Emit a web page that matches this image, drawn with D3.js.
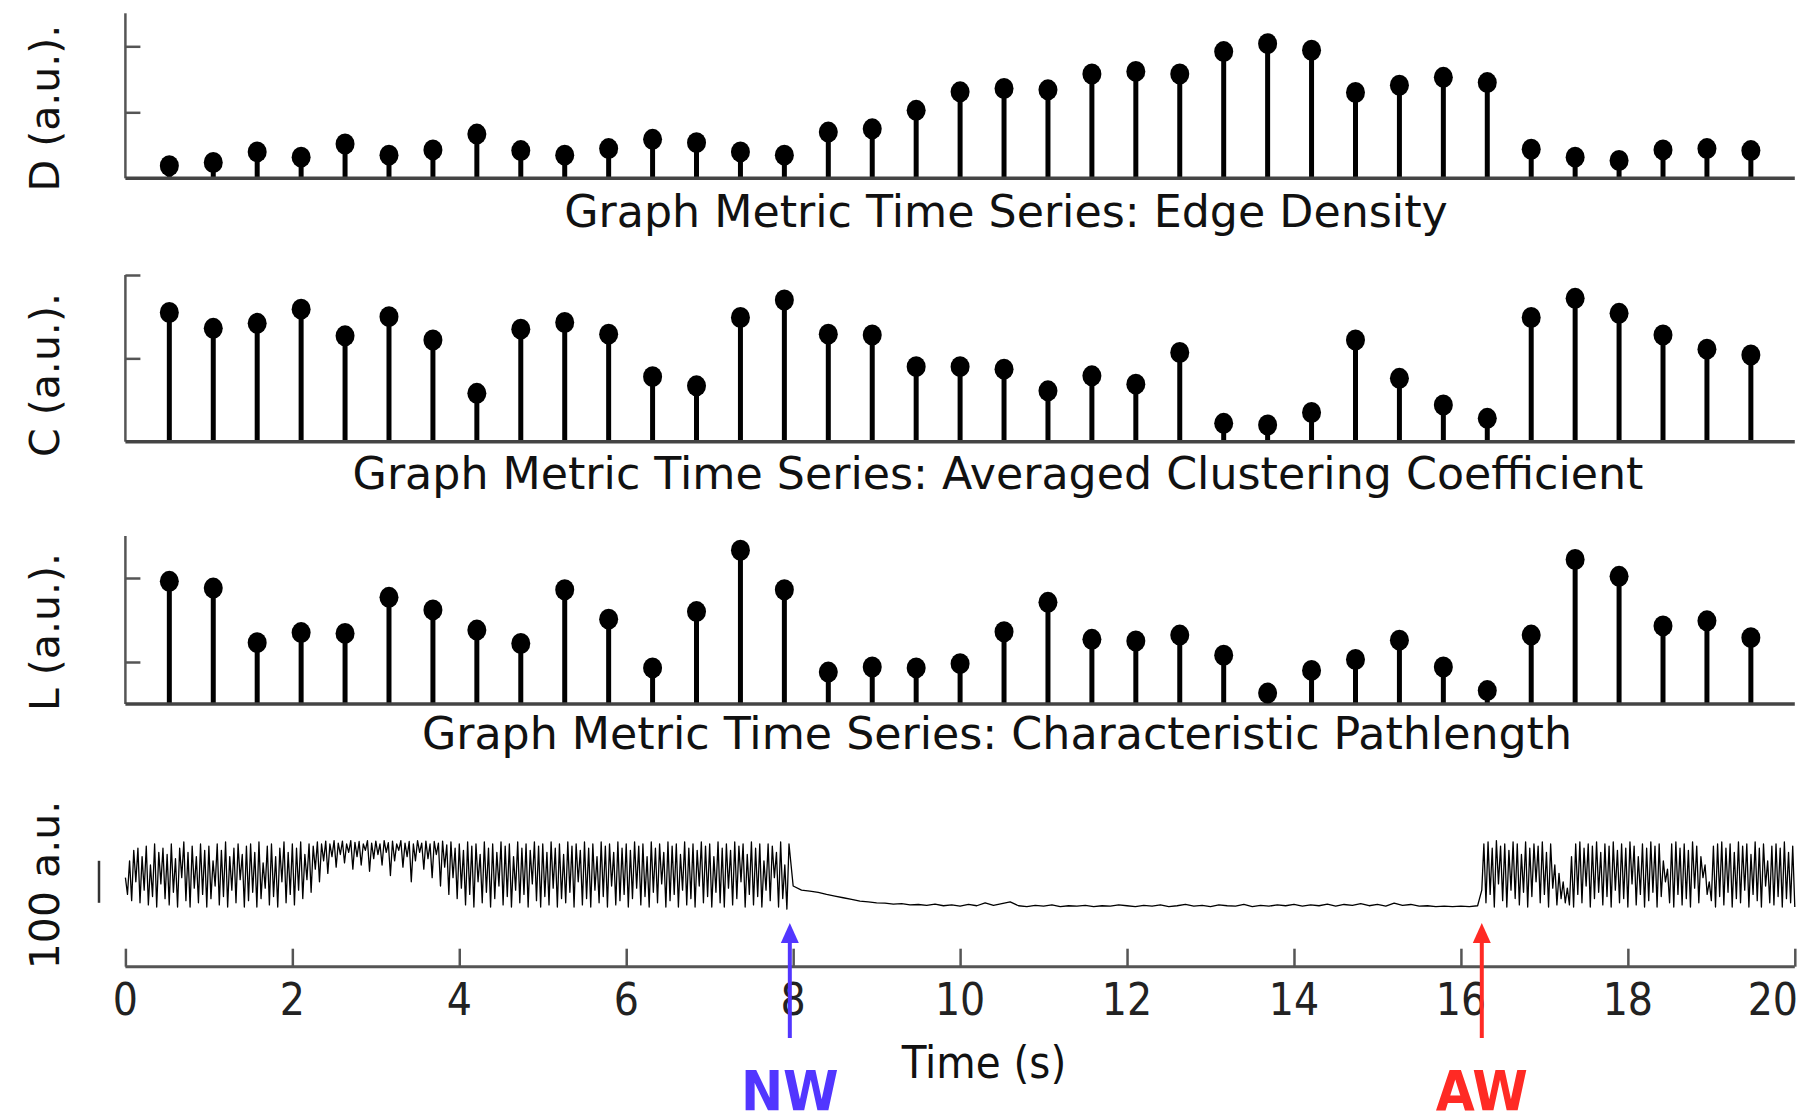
<!DOCTYPE html>
<html>
<head>
<meta charset="utf-8">
<script src="https://cdn.jsdelivr.net/npm/d3@7"></script>
<style>
  body { margin: 0; background: #fff; }
  svg { display: block; font-family: 'DejaVu Sans', sans-serif; }
</style>
</head>
<body>
<svg width="1804" height="1114"></svg>
<script>
'use strict';
const svg = d3.select('svg');

// graph metric values per time window (37 windows over 20 s)
const edgeDensity = [0.19, 0.24, 0.40, 0.32, 0.52, 0.35, 0.43, 0.67, 0.42, 0.35, 0.45, 0.59, 0.54, 0.40, 0.35, 0.70, 0.75,
  1.03, 1.31, 1.36, 1.34, 1.58, 1.62, 1.58, 1.92, 2.04, 1.94, 1.30, 1.41, 1.53, 1.45, 0.44, 0.32, 0.27, 0.43, 0.45, 0.42];
const clustering = [1.55, 1.36, 1.42, 1.59, 1.27, 1.50, 1.22, 0.58, 1.35, 1.43, 1.29, 0.78, 0.67, 1.49, 1.70, 1.29, 1.28,
  0.90, 0.90, 0.87, 0.61, 0.79, 0.69, 1.07, 0.22, 0.20, 0.35, 1.22, 0.76, 0.44, 0.28, 1.49, 1.72, 1.54, 1.28, 1.11, 1.04];
const pathLength = [1.96, 1.88, 1.23, 1.35, 1.34, 1.77, 1.62, 1.38, 1.22, 1.86, 1.51, 0.93, 1.60, 2.33, 1.86, 0.88, 0.94,
  0.93, 0.98, 1.36, 1.71, 1.27, 1.25, 1.32, 1.08, 0.63, 0.90, 1.03, 1.26, 0.94, 0.66, 1.32, 2.22, 2.02, 1.43, 1.49, 1.29];
const windowCount = 38;

// EEG trace (a.u.) in three stretches
const eegAwakeEarlyStart = 0, eegAwakeEarlyStep = 0.025;
const eegAwakeEarly = [
  70, 30, 110, 15, 135, 60, 140, 10, 120, 40, 145, 5, 100, 25, 150, 0, 130, 55, 140, 20,
  125, 5, 150, 35, 115, 0, 140, 70, 155, 15, 130, 0, 145, 45, 120, 10, 150, 30, 135, 0,
  145, 20, 110, 50, 150, 5, 135, 25, 155, 0, 120, 40, 140, 10, 150, 65, 125, 0, 145, 15,
  150, 35, 130, 0, 155, 20, 105, 45, 145, 5, 150, 25, 120, 0, 140, 60, 155, 10, 130, 30,
  150, 5, 140, 40, 155, 20, 125, 65, 150, 35, 145, 90, 155, 60, 150, 110, 157, 80, 150, 120,
  158, 95, 152, 125, 157, 105, 150, 130, 158, 90, 154, 120, 156, 100, 150, 135, 158, 85, 152, 115,
  157, 125, 150, 100, 158, 130, 153, 75, 157, 110, 150, 135, 158, 95, 152, 120, 156, 60, 150, 110,
  158, 130, 152, 90, 157, 115, 150, 70, 156, 125, 152, 50, 157, 95, 148, 30, 155, 70, 140, 20,
  150, 45, 135, 5, 155, 30, 145, 0, 150, 60, 125, 10, 155, 35, 140, 0, 150, 20, 130, 50,
  155, 5, 145, 25, 150, 0, 120, 40, 155, 10, 140, 30, 150, 0, 135, 55, 155, 15, 145, 0,
  150, 25, 130, 5, 155, 45, 140, 0, 150, 20, 125, 10, 155, 35, 145, 0, 150, 60, 135, 5,
  155, 20, 140, 0, 150, 40, 120, 10, 155, 25, 145, 0, 150, 50, 130, 5, 155, 15, 140, 30,
  150, 0, 135, 20, 155, 45, 145, 5, 150, 25, 120, 0, 155, 35, 140, 10, 150, 55, 130, 0,
  155, 15, 145, 30, 150, 0, 125, 40, 155, 5, 140, 20, 150, 0, 135, 50, 155, 10, 145, 25,
  150, 0, 120, 35, 155, 10, 140, 0, 150, 45, 135, 5, 155, 20, 145, 60, 150, 0, 125, 30,
  155, 5, 140, 25, 150, 0, 110, 40, 150, 15, 145, 70, 130, 0, 155, 20, 100, -5, 150];
const eegDrowsyStart = 8.0, eegDrowsyStep = 0.1;
const eegDrowsy = [
  50, 40, 38, 35, 30, 26, 22, 18, 14, 12, 10, 9, 7, 8, 5, 6, 4, 7, 3, 5,
  2, 6, 3, 10, 4, 8, 12, 3, 1, 4, 2, 5, 1, 3, 2, 4, 1, 3, 2, 5,
  3, 1, 4, 2, 5, 1, 3, 6, 2, 4, 1, 5, 3, 2, 6, 1, 4, 2, 5, 3,
  6, 2, 5, 3, 7, 2, 6, 4, 8, 3, 6, 2, 9, 4, 6, 2, 3, 1, 2, 1,
  2, 1, 3];
const eegAwakeLateStart = 16.25, eegAwakeLateStep = 0.025;
const eegAwakeLate = [
  40, 150, 10, 155, 30, 140, 0, 158, 55, 145, 15, 150, 0, 135, 40, 155, 20, 150, 5, 125,
  35, 155, 0, 140, 25, 150, 60, 145, 10, 155, 30, 130, 0, 150, 45, 100, 5, 80, 20, 60,
  10, 45, 5, 120, 0, 150, 30, 155, 10, 140, 50, 150, 0, 145, 20, 155, 35, 130, 5, 150,
  25, 145, 0, 155, 40, 135, 10, 150, 20, 140, 0, 155, 55, 145, 5, 120, 30, 150, 0, 140,
  15, 155, 35, 145, 0, 150, 25, 110, 60, 90, 10, 150, 0, 155, 30, 140, 5, 150, 20, 135,
  0, 155, 45, 145, 10, 120, 70, 100, 30, 60, 15, 145, 0, 150, 25, 155, 5, 140, 35, 150,
  0, 130, 20, 155, 10, 145, 40, 150, 0, 125, 30, 155, 15, 140, 0, 150, 50, 110, 10, 145,
  5, 150, 25, 140, 0, 155, 20, 130, 10, 145, 0];

const timeTicks = [0, 2, 4, 6, 8, 10, 12, 14, 16, 18, 20];
const eegScaleBar = [10, 110];
const events = [{label: 'NW', t: 7.96, color: '#5236ff'}, {label: 'AW', t: 16.25, color: '#ff2a24'}];

const x0 = 125.4, x1 = 1794.8;
const x_time = d3.scaleLinear().domain([0, 20]).range([x0, x1]);
const x_win = d3.scaleLinear().domain([0, windowCount]).range([x0, x1]);

const panels = [
  {values: edgeDensity, domain: [0, 2.5], range: [178.3, 13.3], label: 'D (a.u.).', labelY: 108,
   title: 'Graph Metric Time Series: Edge Density', titleX: 1006, titleY: 227},
  {values: clustering, domain: [0, 2], range: [441.7, 275], label: 'C (a.u.).', labelY: 375,
   title: 'Graph Metric Time Series: Averaged Clustering Coefficient', titleX: 998, titleY: 489},
  {values: pathLength, domain: [0.5, 2.5], range: [704, 536], label: 'L (a.u.).', labelY: 632,
   title: 'Graph Metric Time Series: Characteristic Pathlength', titleX: 997, titleY: 749}
];

for (const p of panels) {
  const y = d3.scaleLinear().domain(p.domain).range(p.range);
  const g = svg.append('g');
  const base = p.domain[0];

  // left axis with inward ticks, no labels
  g.append('g')
    .attr('transform', `translate(${x0},0)`)
    .call(d3.axisRight(y).tickValues([1, 2]).tickSize(15).tickFormat(''))
    .call(a => a.select('.domain').attr('stroke', '#555').attr('stroke-width', 2.5).attr('d', `M0,${y(p.domain[0])}V${y(p.domain[1])}`))
    .call(a => a.selectAll('.tick line').attr('stroke', '#555').attr('stroke-width', 2.5));

  // stems
  g.selectAll('line.stem').data(p.values).enter()
    .append('line')
      .attr('class', 'stem')
      .attr('x1', (d, i) => x_win(i + 1))
      .attr('x2', (d, i) => x_win(i + 1))
      .attr('y1', y(base))
      .attr('y2', d => y(d))
      .attr('stroke', '#000')
      .attr('stroke-width', 5);

  // baseline
  g.append('line')
    .attr('x1', x0).attr('x2', x1)
    .attr('y1', y(base)).attr('y2', y(base))
    .attr('stroke', '#444').attr('stroke-width', 3.5);

  // markers
  g.selectAll('ellipse').data(p.values).enter()
    .append('ellipse')
      .attr('cx', (d, i) => x_win(i + 1))
      .attr('cy', d => y(d))
      .attr('rx', 9.5)
      .attr('ry', 10.5)
      .attr('fill', '#000');

  g.append('text')
    .attr('x', p.titleX).attr('y', p.titleY)
    .attr('text-anchor', 'middle')
    .attr('font-size', 44.3)
    .attr('fill', '#111')
    .text(p.title);

  g.append('text')
    .attr('transform', `translate(44,${p.labelY}) rotate(-90)`)
    .attr('text-anchor', 'middle')
    .attr('dy', '0.36em')
    .attr('font-size', 41)
    .attr('fill', '#111')
    .text(p.label);
}

// EEG panel
const y_eeg = d3.scaleLinear().domain([0, 100]).range([907, 865]);
const eegPoints = [];
eegAwakeEarly.forEach((v, i) => eegPoints.push([eegAwakeEarlyStart + i * eegAwakeEarlyStep, v]));
eegDrowsy.forEach((v, i) => eegPoints.push([eegDrowsyStart + i * eegDrowsyStep, v]));
eegAwakeLate.forEach((v, i) => eegPoints.push([eegAwakeLateStart + i * eegAwakeLateStep, v]));

svg.append('path')
  .datum(eegPoints)
  .attr('fill', 'none')
  .attr('stroke', '#000')
  .attr('stroke-width', 1.3)
  .attr('stroke-linejoin', 'round')
  .attr('d', d3.line().x(d => x_time(d[0])).y(d => y_eeg(d[1])));

// 100 a.u. scale bar
svg.append('line')
  .attr('x1', 99).attr('x2', 99)
  .attr('y1', y_eeg(eegScaleBar[0])).attr('y2', y_eeg(eegScaleBar[1]))
  .attr('stroke', '#333').attr('stroke-width', 2.5);

svg.append('text')
  .attr('transform', 'translate(44,885) rotate(-90)')
  .attr('text-anchor', 'middle')
  .attr('dy', '0.36em')
  .attr('font-size', 41)
  .attr('fill', '#111')
  .text('100 a.u.');

// time axis, ticks pointing up
const axisY = 966.7;
svg.append('g')
  .attr('transform', `translate(0,${axisY})`)
  .call(d3.axisTop(x_time).tickValues(timeTicks).tickSize(18).tickFormat(''))
  .call(a => a.select('.domain').attr('stroke', '#555').attr('stroke-width', 3).attr('d', `M${x0},0H${x1}`))
  .call(a => a.selectAll('.tick line').attr('stroke', '#555').attr('stroke-width', 2.5));

svg.append('g').selectAll('text').data(timeTicks).enter()
  .append('text')
    .attr('x', (d, i) => i === timeTicks.length - 1 ? 1798 : x_time(d))
    .attr('y', 1015)
    .attr('text-anchor', (d, i) => i === timeTicks.length - 1 ? 'end' : 'middle')
    .attr('font-family', "'DejaVu Sans Condensed', 'DejaVu Sans', sans-serif")
    .attr('font-size', 44)
    .attr('fill', '#222')
    .text(d => d);

svg.append('text')
  .attr('x', 984).attr('y', 1078)
  .attr('text-anchor', 'middle')
  .attr('font-family', "'DejaVu Sans Condensed', 'DejaVu Sans', sans-serif")
  .attr('font-size', 45)
  .attr('fill', '#111')
  .text('Time (s)');

// event arrows
const ev = svg.append('g').selectAll('g').data(events).enter().append('g');
ev.append('line')
  .attr('x1', d => x_time(d.t)).attr('x2', d => x_time(d.t))
  .attr('y1', 1038).attr('y2', 940)
  .attr('stroke', d => d.color).attr('stroke-width', 4);
ev.append('path')
  .attr('d', d => `M${x_time(d.t)},923L${x_time(d.t) - 9},943L${x_time(d.t) + 9},943Z`)
  .attr('fill', d => d.color);
ev.append('text')
  .attr('x', d => x_time(d.t))
  .attr('y', 1110)
  .attr('text-anchor', 'middle')
  .attr('font-family', "'Liberation Sans Narrow', 'DejaVu Sans Condensed', sans-serif")
  .attr('font-weight', 'bold')
  .attr('font-size', 56)
  .attr('fill', d => d.color)
  .text(d => d.label);
</script>
</body>
</html>
